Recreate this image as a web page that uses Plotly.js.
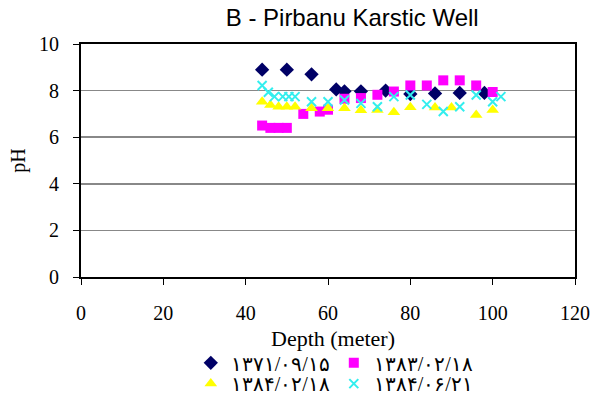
<!DOCTYPE html>
<html>
<head>
<meta charset="utf-8">
<script src="https://cdn.plot.ly/plotly-3.0.1.min.js"></script>
<style>html,body{margin:0;padding:0;background:#fff;}#chart{width:600px;height:400px;}</style>
</head>
<body>
<div id="chart"></div>
<script>
const seriesNames = ['۱۳۷۱/۰۹/۱۵', '۱۳۸۳/۰۲/۱۸', '۱۳۸۴/۰۲/۱۸', '۱۳۸۴/۰۶/۲۱'];

const depth1371 = [44, 50, 56, 62, 64, 68, 74, 80, 86, 92, 98];
const ph1371    = [8.9, 8.9, 8.7, 8.05, 7.97, 7.97, 8.0, 7.85, 7.88, 7.9, 7.9];

const depth1383 = [44, 46, 48, 50, 54, 58, 60, 64, 68, 72, 76, 80, 84, 88, 92, 96, 100];
const ph1383    = [6.5, 6.4, 6.4, 6.4, 7.0, 7.1, 7.18, 7.65, 7.68, 7.82, 7.96, 8.22, 8.22, 8.44, 8.44, 8.22, 7.94];

const depth1384a = [44, 46, 48, 50, 52, 56, 60, 64, 68, 72, 76, 80, 86, 90, 96, 100];
const ph1384a    = [7.52, 7.38, 7.31, 7.31, 7.31, 7.24, 7.24, 7.24, 7.16, 7.17, 7.07, 7.29, 7.28, 7.28, 6.95, 7.17];

const depth1384b = [44, 45.5, 47, 49, 50.5, 52, 56, 60, 64, 68, 72, 76, 80, 84, 88, 92, 96, 100, 102];
const ph1384b    = [8.22, 7.93, 7.74, 7.74, 7.74, 7.74, 7.52, 7.52, 7.6, 7.45, 7.31, 7.74, 7.81, 7.41, 7.1, 7.31, 7.81, 7.52, 7.74];

const xTicks = [0, 20, 40, 60, 80, 100, 120];
const yTicks = [0, 2, 4, 6, 8, 10];
const xTitle = 'Depth (meter)';

const serif = 'Liberation Serif, Times New Roman, serif';

const traces = [
  {x: depth1371, y: ph1371, name: seriesNames[0], type: 'scatter', mode: 'markers',
   marker: {symbol: 'diamond', size: 11, color: '#000066'}, legend: 'legend'},
  {x: depth1383, y: ph1383, name: seriesNames[1], type: 'scatter', mode: 'markers',
   marker: {symbol: 'square', size: 10, color: '#ff00ff'}, legend: 'legend'},
  {x: depth1384a, y: ph1384a, name: seriesNames[2], type: 'scatter', mode: 'markers',
   marker: {symbol: 'triangle-up', size: 11, color: '#ffff00'}, legend: 'legend2'},
  {x: depth1384b, y: ph1384b, name: seriesNames[3], type: 'scatter', mode: 'markers',
   marker: {symbol: 'x-thin', size: 9, color: '#33eeee', line: {color: '#33eeee', width: 2}}, legend: 'legend2'}
];

const legendCommon = {
  orientation: 'h', xref: 'container', yref: 'container', xanchor: 'left', yanchor: 'middle',
  font: {family: serif, size: 20, color: '#000'}, entrywidth: 98, itemwidth: 30,
  bgcolor: 'rgba(0,0,0,0)', tracegroupgap: 0
};

const layout = {
  width: 600, height: 400,
  margin: {l: 81, r: 25, t: 44, b: 123},
  paper_bgcolor: '#fff', plot_bgcolor: '#fff',
  font: {family: serif, size: 20, color: '#000'},
  title: {text: 'B - Pirbanu Karstic Well', font: {family: 'Liberation Sans, Arial, sans-serif', size: 24, color: '#000'},
          x: 0.549, xref: 'paper', xanchor: 'center', y: 0.955, yref: 'container', yanchor: 'middle'},
  xaxis: {range: [0, 120], tickvals: xTicks, ticktext: xTicks.map(String), showgrid: false, zeroline: false,
          showline: true, linecolor: '#000', linewidth: 2, mirror: true,
          ticks: 'outside', ticklen: 6, tickcolor: '#000', ticklabelstandoff: 11,
          tickfont: {family: serif, size: 20}},
  yaxis: {range: [0, 10], tickvals: yTicks, ticktext: yTicks.map(String), showgrid: true, gridcolor: '#888', gridwidth: 1.5,
          zeroline: false, showline: true, linecolor: '#000', linewidth: 2, mirror: true,
          ticks: 'outside', ticklen: 6, tickcolor: '#000', ticklabelstandoff: 10,
          tickfont: {family: serif, size: 20},
          title: {text: 'pH', font: {family: serif, size: 20}, standoff: 8}},
  annotations: [{text: xTitle, xref: 'paper', yref: 'paper', x: 0.51, y: -0.262, xanchor: 'center', yanchor: 'middle',
                 showarrow: false, font: {family: serif, size: 22, color: '#000'}}],
  legend: Object.assign({x: 0.318, y: 0.093}, legendCommon),
  legend2: Object.assign({x: 0.318, y: 0.041}, legendCommon),
  showlegend: true
};

Plotly.newPlot('chart', traces, layout, {displayModeBar: false, staticPlot: true});
</script>
</body>
</html>
